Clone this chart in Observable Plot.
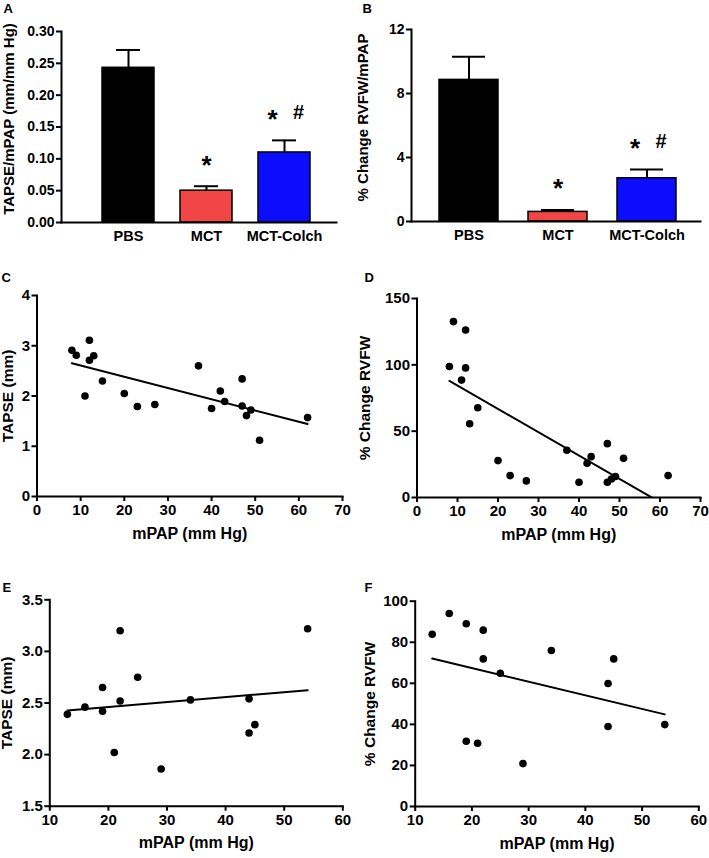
<!DOCTYPE html>
<html><head><meta charset="utf-8">
<script src="https://cdn.jsdelivr.net/npm/d3@7"></script>
<script src="https://cdn.jsdelivr.net/npm/@observablehq/plot@0.6"></script>
<style>
body{margin:0;background:#fff;}
#fig{position:relative;width:709px;height:858px;}
</style></head><body><div id="fig"></div>
<script>
// ---- data ----
const groups = ["PBS", "MCT", "MCT-Colch"];
const groupColors = ["#000000", "#f24545", "#0c0cff"];
const starMarks = ["", "*", "*"];
const hashMarks = ["", "", "#"];

const tapseRatioMean = [0.243, 0.050, 0.110];
const tapseRatioSem = [0.028, 0.007, 0.019];
const rvfwRatioMean = [8.85, 0.6, 2.7];
const rvfwRatioSem = [1.45, 0.12, 0.55];

const mpapC = [8, 9, 12, 12, 13, 11, 15, 20, 23, 27, 37, 40, 42, 43, 47, 47, 49, 48, 51, 62];
const tapseC = [2.91, 2.81, 3.11, 2.71, 2.80, 2.00, 2.30, 2.05, 1.79, 1.83, 2.60, 1.75, 2.10, 1.89, 2.34, 1.80, 1.72, 1.61, 1.12, 1.57];

const mpapD = [9, 12, 8, 12, 11, 15, 13, 20, 23, 27, 37, 40, 42, 43, 47, 47, 48, 49, 51, 62];
const rvfwD = [132.6, 126.3, 98.7, 97.7, 88.5, 67.7, 55.6, 27.8, 16.5, 12.5, 35.6, 11.5, 25.8, 30.8, 40.6, 11.5, 14.0, 15.8, 29.5, 16.5];

const mpapE = [13, 16, 19, 19, 22, 22, 21, 25, 29, 34, 44, 44, 45, 54];
const tapseE = [2.39, 2.46, 2.65, 2.42, 3.20, 2.52, 2.02, 2.75, 1.86, 2.53, 2.54, 2.21, 2.29, 3.22];

const mpapF = [13, 16, 19, 22, 22, 25, 34, 44, 45, 44, 54, 19, 21, 29];
const rvfwF = [83.9, 94.0, 89.0, 85.9, 71.9, 64.9, 76.0, 59.9, 71.9, 39.0, 39.9, 31.8, 30.8, 20.9];

const ticksA = [0, 0.05, 0.10, 0.15, 0.20, 0.25, 0.30];
const ticksB = [0, 4, 8, 12];
const ticksCy = [0, 1, 2, 3, 4];
const ticksDy = [0, 50, 100, 150];
const ticksEy = [1.5, 2.0, 2.5, 3.0, 3.5];
const ticksFy = [0, 20, 40, 60, 80, 100];
const ticksCDx = [0, 10, 20, 30, 40, 50, 60, 70];
const ticksEFx = [10, 20, 30, 40, 50, 60];

// ---- rendering ----
const FONT = '"Liberation Sans", Arial, Helvetica, sans-serif';
const fig = document.getElementById("fig");

function baseStyle(left, top) {
  return {position: "absolute", left: left + "px", top: top + "px", fontFamily: FONT,
          fontWeight: "bold", fontSize: "15px", color: "black", background: "transparent", overflow: "visible"};
}

function barPanel(o) {
  const rows = groups.map((g, i) => ({g, mean: o.mean[i], hi: o.mean[i] + o.sem[i], color: groupColors[i], star: starMarks[i], hash: hashMarks[i]}));
  const chart = Plot.plot({
    width: o.width, height: o.height,
    marginLeft: o.mL, marginRight: o.mR, marginTop: o.mT, marginBottom: o.mB,
    style: baseStyle(o.left, o.top),
    x: {type: "band", domain: groups, paddingInner: o.padIn, paddingOuter: o.padIn / 2, insetLeft: o.insL, insetRight: o.insR},
    y: {domain: o.yDomain},
    color: {type: "identity"},
    marks: [
      Plot.ruleX(rows, {x: "g", y1: "mean", y2: "hi", stroke: "black", strokeWidth: 2}),
      Plot.tickY(rows, {x: "g", y: "hi", stroke: "black", strokeWidth: 2, insetLeft: o.capInset, insetRight: o.capInset}),
      Plot.barY(rows, {x: "g", y: "mean", fill: "color", stroke: "black", strokeWidth: 1.5}),
      Plot.frame({anchor: "left", strokeWidth: 2}),
      Plot.frame({anchor: "bottom", strokeWidth: 2}),
      Plot.axisY({ticks: o.yTicks, tickFormat: o.yFormat, tickSize: 5, tickPadding: 2, strokeWidth: 2, label: null, fontSize: 14}),
      Plot.axisX({tickSize: 0, tickPadding: 8, label: null, fontSize: 14.5}),
      Plot.text(rows.filter(d => d.star && !d.hash), {x: "g", y: "hi", text: "star", dy: -21, fontSize: 26}),
      Plot.text(rows.filter(d => d.star && d.hash), {x: "g", y: "hi", text: "star", dy: -21, dx: -12, fontSize: 26}),
      Plot.text(rows.filter(d => d.hash), {x: "g", y: "hi", text: "hash", dy: -28, dx: 14, fontSize: 20}),
      Plot.text([o.title], {frameAnchor: "left", rotate: -90, textAnchor: "middle", dx: o.titleDx, dy: o.titleDy || 0, fontSize: 15}),
      Plot.text([o.letter], {frameAnchor: "top-left", dx: o.letDx, dy: o.letDy, textAnchor: "start", lineAnchor: "top", fontSize: 13})
    ]
  });
  fig.appendChild(chart);
}

function scatterPanel(o) {
  const pts = o.xs.map((x, i) => ({x, y: o.ys[i]}));
  const chart = Plot.plot({
    width: o.width, height: o.height,
    marginLeft: o.mL, marginRight: o.mR, marginTop: o.mT, marginBottom: o.mB,
    style: baseStyle(o.left, o.top),
    x: {domain: o.xDomain},
    y: {domain: o.yDomain},
    marks: [
      Plot.frame({anchor: "left", strokeWidth: 2}),
      Plot.frame({anchor: "bottom", strokeWidth: 2}),
      Plot.axisY({ticks: o.yTicks, tickFormat: o.yFormat, tickSize: 5, tickPadding: 2, strokeWidth: 2, label: null, fontSize: 15}),
      Plot.axisX({ticks: o.xTicks, tickSize: 5, tickPadding: 3, strokeWidth: 2, label: null, fontSize: 15}),
      Plot.linearRegressionY(pts, {x: "x", y: "y", ci: 0, stroke: "black", strokeWidth: 2, clip: true}),
      Plot.dot(pts, {x: "x", y: "y", r: 3.8, fill: "black", stroke: null}),
      Plot.text([o.yTitle], {frameAnchor: "left", rotate: -90, textAnchor: "middle", dx: o.titleDx, fontSize: 15.5}),
      Plot.text(["mPAP (mm Hg)"], {frameAnchor: "bottom", dy: 42, fontSize: 16}),
      Plot.text([o.letter], {frameAnchor: "top-left", dx: o.letDx, dy: o.letDy, textAnchor: "start", lineAnchor: "top", fontSize: 13})
    ]
  });
  fig.appendChild(chart);
}

barPanel({left: 0, top: 0, width: 354, height: 255, mL: 61, mR: 18, mT: 31, mB: 33,
  padIn: 0.333, insL: 28, insR: 13, capInset: 14,
  mean: tapseRatioMean, sem: tapseRatioSem, yDomain: [0, 0.30], yTicks: ticksA, yFormat: ".2f",
  title: "TAPSE/mPAP (mm/mm Hg)", titleDx: -52, titleDy: -8, letter: "A", letDx: -58, letDy: -28});

barPanel({left: 354, top: 0, width: 355, height: 255, mL: 57, mR: 9, mT: 29, mB: 34,
  padIn: 0.337, insL: 13.5, insR: 8.5, capInset: 13,
  mean: rvfwRatioMean, sem: rvfwRatioSem, yDomain: [0, 12], yTicks: ticksB, yFormat: "d",
  title: "% Change RVFW/mPAP", titleDx: -48, titleDy: -8, letter: "B", letDx: -49, letDy: -26});

scatterPanel({left: 0, top: 255, width: 354, height: 300, mL: 36.5, mR: 12, mT: 40, mB: 59,
  xs: mpapC, ys: tapseC, xDomain: [0, 70], xTicks: ticksCDx, yDomain: [0, 4], yTicks: ticksCy, yFormat: "d",
  yTitle: "TAPSE (mm)", titleDx: -28.5, letter: "C", letDx: -35.5, letDy: -23});

scatterPanel({left: 354, top: 255, width: 355, height: 300, mL: 62.5, mR: 9, mT: 43, mB: 58,
  xs: mpapD, ys: rvfwD, xDomain: [0, 70], xTicks: ticksCDx, yDomain: [0, 150], yTicks: ticksDy, yFormat: "d",
  yTitle: "% Change RVFW", titleDx: -51.5, letter: "D", letDx: -52.5, letDy: -26});

scatterPanel({left: 0, top: 555, width: 354, height: 303, mL: 49.3, mR: 11.7, mT: 44.3, mB: 52.3,
  xs: mpapE, ys: tapseE, xDomain: [10, 60], xTicks: ticksEFx, yDomain: [1.5, 3.5], yTicks: ticksEy, yFormat: ".1f",
  yTitle: "TAPSE (mm)", titleDx: -42.3, letter: "E", letDx: -47.3, letDy: -17.3});

scatterPanel({left: 354, top: 555, width: 355, height: 303, mL: 60.7, mR: 10.7, mT: 45.7, mB: 52,
  xs: mpapF, ys: rvfwF, xDomain: [10, 60], xTicks: ticksEFx, yDomain: [0, 100], yTicks: ticksFy, yFormat: "d",
  yTitle: "% Change RVFW", titleDx: -44.7, letter: "F", letDx: -50.7, letDy: -18.7});
</script>
</body></html>
